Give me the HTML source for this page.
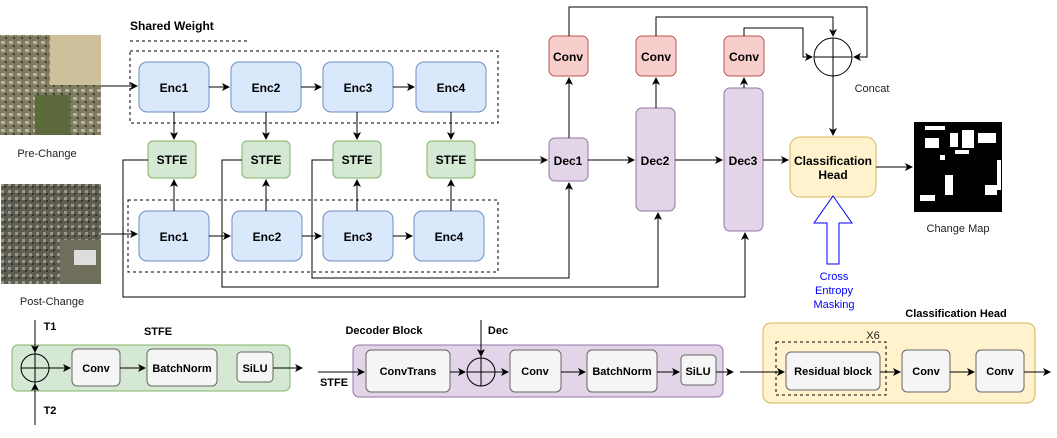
<!DOCTYPE html>
<html><head><meta charset="utf-8"><style>
body{margin:0;background:#fff}
svg text{font-family:"Liberation Sans",sans-serif}
.b{font-weight:bold;font-size:12px}
</style></head><body>
<svg width="1057" height="433" viewBox="0 0 1057 433" xmlns="http://www.w3.org/2000/svg">
<defs><marker id="a" markerWidth="8" markerHeight="8" refX="7" refY="4" orient="auto" markerUnits="userSpaceOnUse"><path d="M0,0 L8,4 L0,8 L2,4z" fill="#000"/></marker>
<pattern id="p1" width="8" height="8" patternUnits="userSpaceOnUse"><rect width="8" height="8" fill="#7d7a60"/><rect x="1" y="1" width="4" height="3" fill="#b8b4a0"/><rect x="5" y="5" width="2" height="2" fill="#3f4532"/></pattern>
<pattern id="p2" width="7" height="7" patternUnits="userSpaceOnUse"><rect width="7" height="7" fill="#5e5e50"/><rect x="1" y="1" width="3" height="3" fill="#9a968a"/><rect x="4" y="4" width="2" height="2" fill="#333"/></pattern>
</defs>
<g fill="none" stroke="#000">
<rect x="0" y="35" width="101" height="100" fill="url(#p1)" stroke="none"/>
<rect x="50" y="35" width="51" height="50" fill="#cdbf9a" stroke="none"/>
<rect x="35" y="95" width="35" height="40" fill="#5d6a3c" stroke="none"/>
<rect x="1" y="184" width="100" height="100" fill="url(#p2)" stroke="none"/>
<rect x="60" y="240" width="41" height="44" fill="#6f6e5c" stroke="none"/>
<rect x="74" y="250" width="22" height="15" fill="#ddd" stroke="none"/>
<rect x="914" y="122" width="88" height="90" fill="#000" stroke="none"/>
<g fill="#fff" stroke="none"><rect x="925" y="126" width="20" height="4"/><rect x="950" y="133" width="8" height="14"/><rect x="962" y="130" width="12" height="18"/><rect x="978" y="133" width="18" height="10"/><rect x="925" y="138" width="14" height="10"/><rect x="940" y="155" width="5" height="5"/><rect x="955" y="150" width="14" height="4"/><rect x="985" y="185" width="12" height="10"/><rect x="945" y="175" width="8" height="20"/><rect x="920" y="195" width="15" height="6"/><rect x="997" y="160" width="4" height="30"/></g>
<line x1="130" y1="41" x2="247" y2="41" stroke-dasharray="3,3"/>
<rect x="130" y="51" width="368" height="72" stroke-dasharray="3,3"/>
<rect x="128" y="200" width="370" height="72" stroke-dasharray="3,3"/>
</g>
<g stroke="#6c8ebf" fill="#dae8fc">
<rect x="139" y="62" width="70" height="50" rx="8"/><rect x="231" y="62" width="70" height="50" rx="8"/><rect x="323" y="62" width="70" height="50" rx="8"/><rect x="416" y="62" width="70" height="50" rx="8"/>
<rect x="139" y="211" width="70" height="50" rx="8"/><rect x="232" y="211" width="70" height="50" rx="8"/><rect x="323" y="211" width="70" height="50" rx="8"/><rect x="414" y="211" width="70" height="50" rx="8"/>
</g>
<g stroke="#82b366" fill="#d5e8d4">
<rect x="148" y="141" width="48" height="37" rx="5"/><rect x="242" y="141" width="48" height="37" rx="5"/><rect x="333" y="141" width="48" height="37" rx="5"/><rect x="427" y="141" width="48" height="37" rx="5"/>
<rect x="12" y="345" width="278" height="46" rx="6"/>
</g>
<g stroke="#9673a6" fill="#e1d5e7">
<rect x="549" y="138" width="39" height="43" rx="6"/><rect x="636" y="108" width="39" height="103" rx="6"/><rect x="724" y="88" width="39" height="143" rx="6"/>
<rect x="353" y="345" width="370" height="52" rx="6"/>
</g>
<g stroke="#b85450" fill="#f8cecc">
<rect x="549" y="36" width="39" height="40" rx="6"/><rect x="636" y="36" width="40" height="40" rx="6"/><rect x="724" y="36" width="40" height="40" rx="6"/>
</g>
<g stroke="#d6b656" fill="#fff2cc">
<rect x="790" y="137" width="86" height="60" rx="10"/>
<rect x="763" y="323" width="272" height="80" rx="8"/>
</g>
<g stroke="#666" fill="#f5f5f5">
<rect x="72" y="349" width="48" height="37" rx="5"/><rect x="147" y="349" width="70" height="37" rx="5"/><rect x="237" y="352" width="36" height="30" rx="4"/>
<rect x="366" y="350" width="84" height="42" rx="5"/><rect x="510" y="350" width="51" height="42" rx="5"/><rect x="587" y="350" width="70" height="42" rx="5"/><rect x="681" y="355" width="35" height="30" rx="4"/>
<rect x="786" y="352" width="94" height="38" rx="5"/><rect x="902" y="350" width="48" height="42" rx="5"/><rect x="976" y="350" width="48" height="42" rx="5"/>
</g>
<rect x="776" y="342" width="110" height="53" fill="none" stroke="#000" stroke-dasharray="3,3"/>
<g fill="none" stroke="#000" marker-end="url(#a)">
<path d="M101 86H137"/><path d="M101 234H137"/>
<path d="M209 87H229"/><path d="M301 87H321"/><path d="M393 87H414"/>
<path d="M209 236H230"/><path d="M302 236H321"/><path d="M393 236H412"/>
<path d="M174 112V139"/><path d="M266 112V139"/><path d="M357 112V139"/><path d="M451 112V139"/>
<path d="M174 211V180"/><path d="M266 211V180"/><path d="M357 211V180"/><path d="M451 211V180"/>
<path d="M475 160H547"/><path d="M588 160H634"/><path d="M675 160H722"/><path d="M763 160H788"/>
<path d="M148 160H123V297H745V233"/><path d="M242 160H222V287H658V213"/><path d="M333 160H312V278H569V183"/>
<path d="M569 138V78"/><path d="M656 108V78"/><path d="M744 88V78"/>
<path d="M569 36V7H867V57H854"/><path d="M656 36V17H833V36"/><path d="M744 36V28H803V57H812"/>
<path d="M833 76V135"/><path d="M876 167H912"/>
<path d="M35 320V352"/><path d="M35 425V384"/><path d="M21 368H70"/><path d="M120 368H145"/><path d="M273 368H302"/>
<path d="M318 372H364"/><path d="M450 372H465"/><path d="M481 320V356"/><path d="M495 372H508"/><path d="M561 372H585"/><path d="M657 372H679"/><path d="M716 372H733"/>
<path d="M740 372H784"/><path d="M880 372H900"/><path d="M950 372H974"/><path d="M1024 372H1050"/>
</g>
<g fill="none" stroke="#000">
<circle cx="833" cy="57" r="19"/><path d="M814 57H852M833 38V76"/>
<circle cx="35" cy="368" r="14"/><path d="M35 352V384"/>
<circle cx="481" cy="372" r="14"/><path d="M467 372H495M481 356V386"/>
</g>
<path d="M833 196L852 223H839V264H827V223H814Z" fill="#fff" stroke="#0000ff"/>
<g class="b" text-anchor="middle">
<text x="174" y="92">Enc1</text><text x="266" y="92">Enc2</text><text x="358" y="92">Enc3</text><text x="451" y="92">Enc4</text>
<text x="174" y="241">Enc1</text><text x="267" y="241">Enc2</text><text x="358" y="241">Enc3</text><text x="449" y="241">Enc4</text>
<text x="172" y="164">STFE</text><text x="266" y="164">STFE</text><text x="357" y="164">STFE</text><text x="451" y="164">STFE</text>
<text x="568" y="165">Dec1</text><text x="655" y="165">Dec2</text><text x="743" y="165">Dec3</text>
<text x="568" y="61">Conv</text><text x="656" y="61">Conv</text><text x="744" y="61">Conv</text>
<text x="833" y="165">Classification</text><text x="833" y="179">Head</text>
<text x="96" y="372" font-size="11">Conv</text><text x="182" y="372" font-size="11">BatchNorm</text><text x="255" y="372" font-size="11">SiLU</text>
<text x="408" y="375" font-size="11">ConvTrans</text><text x="535" y="375" font-size="11">Conv</text><text x="622" y="375" font-size="11">BatchNorm</text><text x="698" y="375" font-size="11">SiLU</text>
<text x="833" y="375" font-size="11">Residual block</text><text x="926" y="375" font-size="11">Conv</text><text x="1000" y="375" font-size="11">Conv</text>
<text x="158" y="335" font-size="11">STFE</text><text x="384" y="334" font-size="11">Decoder Block</text><text x="956" y="317" font-size="11">Classification Head</text>
<text x="50" y="330" font-size="11">T1</text><text x="50" y="414" font-size="11">T2</text><text x="498" y="334" font-size="11">Dec</text><text x="334" y="386" font-size="11">STFE</text>
</g>
<text x="130" y="30" class="b" font-size="11">Shared Weight</text>
<g font-size="11" text-anchor="middle" fill="#222">
<text x="47" y="157">Pre-Change</text><text x="52" y="305">Post-Change</text>
<text x="872" y="92">Concat</text><text x="958" y="232">Change Map</text><text x="873" y="339">X6</text>
<g fill="#0000ff"><text x="834" y="280">Cross</text><text x="834" y="294">Entropy</text><text x="834" y="308">Masking</text></g>
</g>
</svg>
</body></html>
